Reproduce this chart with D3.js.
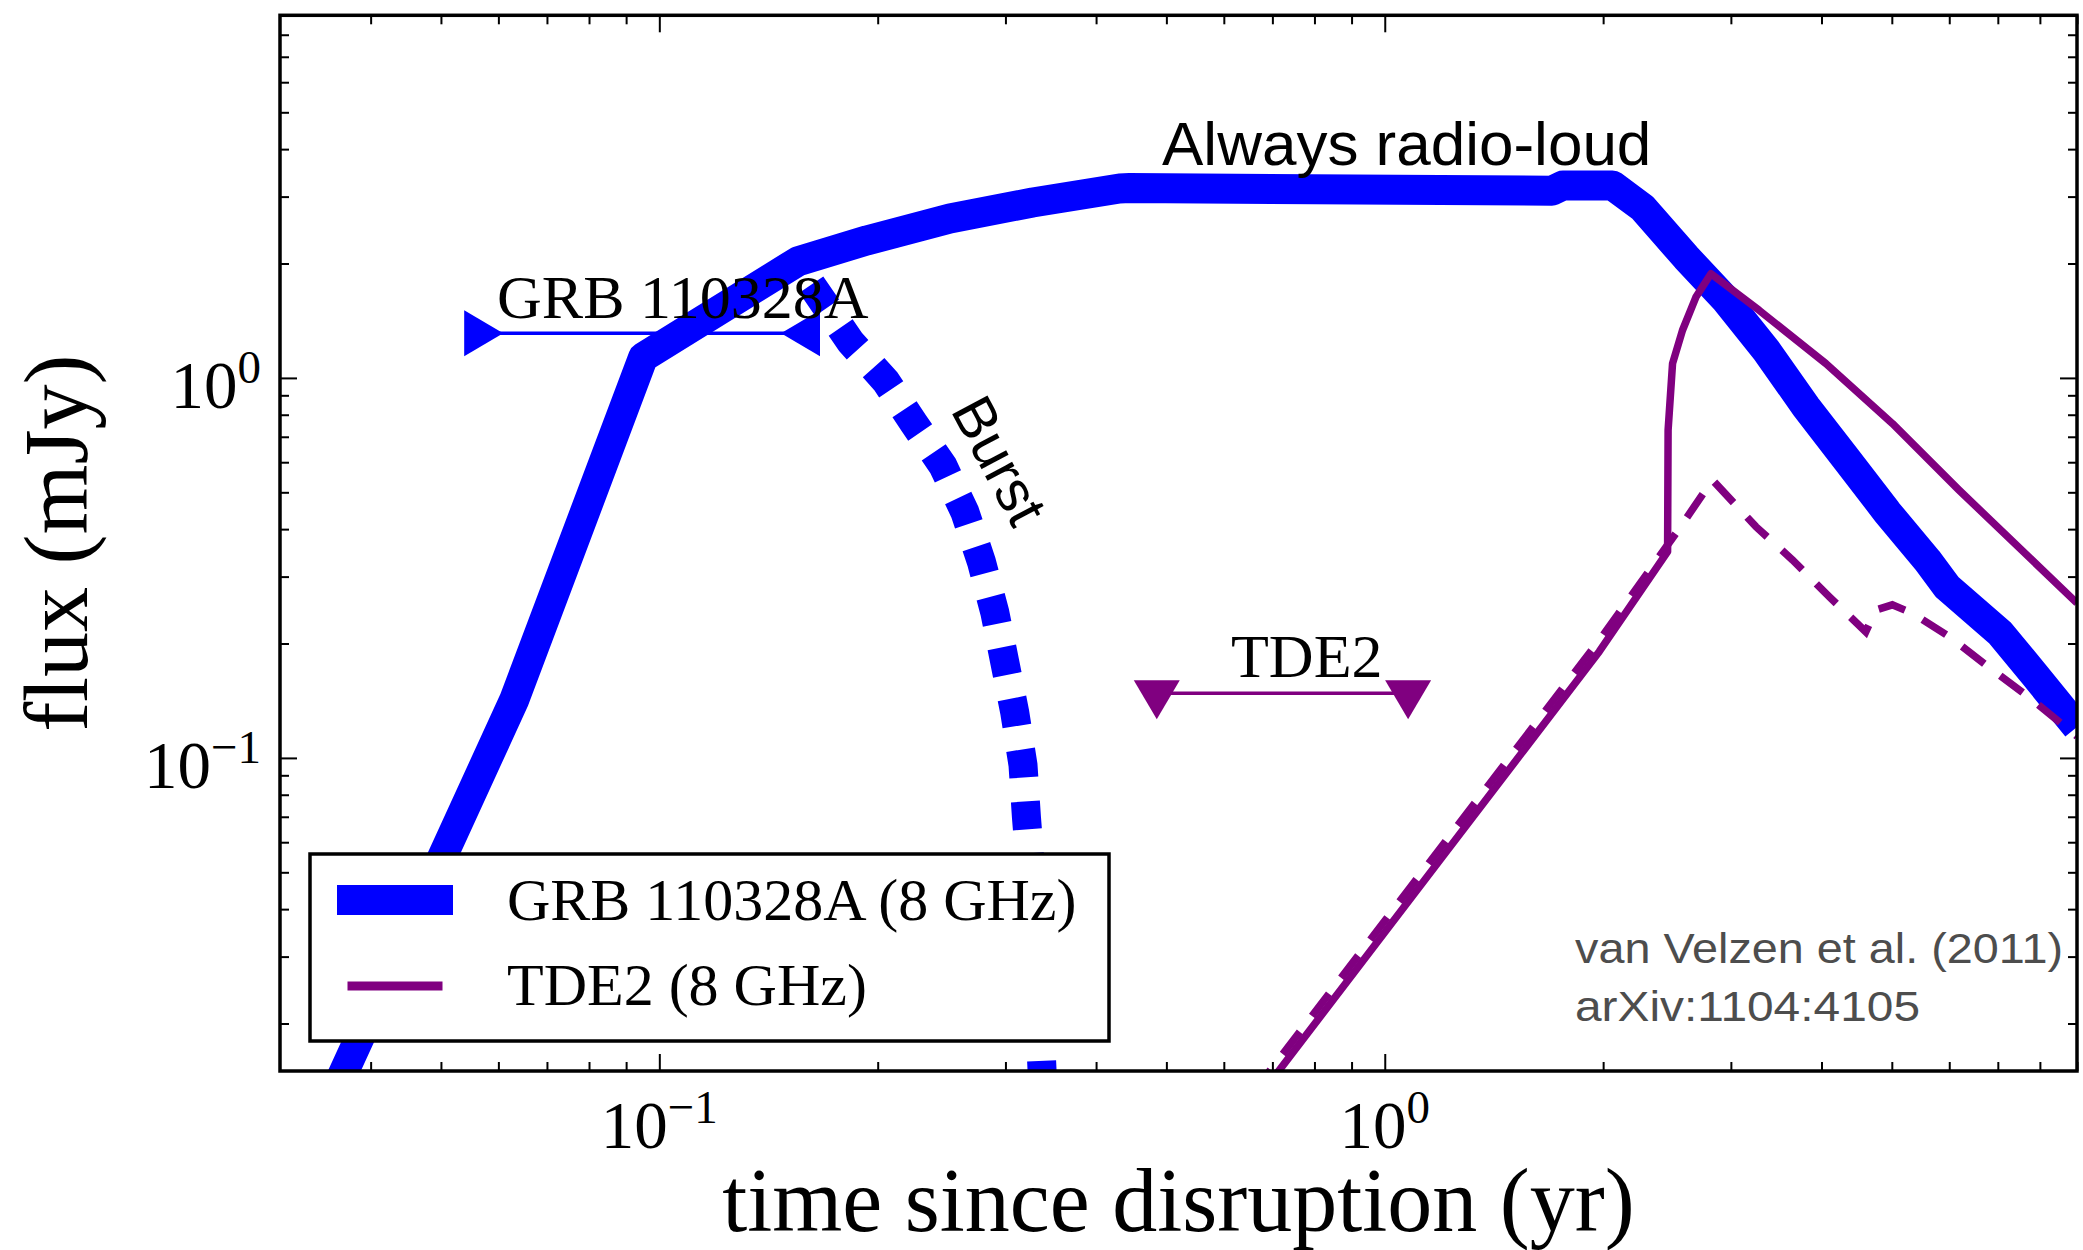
<!DOCTYPE html>
<html>
<head>
<meta charset="utf-8">
<script src="https://cdn.jsdelivr.net/npm/d3@7"></script>
<style>
  html, body { margin: 0; padding: 0; background: #ffffff; }
  svg { display: block; }
</style>
</head>
<body>
<script>
// ---------------- data ----------------
// GRB 110328A (8 GHz) light curve, thick blue solid
const grbT    = [0.03, 0.0631, 0.0950, 0.1552, 0.1932, 0.2515, 0.327, 0.431, 0.445, 1.70, 1.76, 2.06, 2.265, 2.603, 2.956, 3.356, 3.81, 4.338, 4.925, 5.593, 5.959, 7.05, 7.83, 9.0];
const grbFlux = [0.0064, 0.1422, 1.133, 2.026, 2.30, 2.628, 2.894, 3.15, 3.16, 3.11, 3.21, 3.21, 2.809, 2.075, 1.600, 1.182, 0.838, 0.608, 0.4437, 0.3317, 0.2817, 0.2132, 0.1673, 0.1206];

// "Burst" component, blue dotted
const burstT    = [0.162, 0.1835, 0.2052, 0.2243, 0.246, 0.2637, 0.278, 0.290, 0.2994, 0.309, 0.3172, 0.3207, 0.330, 0.337, 0.340];
const burstFlux = [1.76, 1.243, 0.980, 0.760, 0.587, 0.4438, 0.328, 0.2418, 0.1785, 0.1317, 0.0958, 0.0697, 0.035, 0.015, 0.012];

// TDE2 (8 GHz) model, purple solid
const tdeT    = [0.608, 0.718, 1.19, 1.976, 2.454, 2.458, 2.493, 2.573, 2.685, 2.816, 3.282, 4.055, 5.008, 6.187, 9.0];
const tdeFlux = [0.01, 0.0152, 0.0537, 0.1906, 0.349, 0.729, 1.091, 1.335, 1.632, 1.88, 1.506, 1.091, 0.759, 0.507, 0.2555];

// TDE2 second model, purple dashed
const tdeDashT    = [0.6, 0.718, 1.19, 1.976, 2.52, 2.83, 3.248, 3.648, 4.098, 4.603, 4.75, 5.008, 5.337, 5.996, 6.877, 7.81, 9.0];
const tdeDashFlux = [0.0105, 0.0163, 0.0575, 0.204, 0.39, 0.5384, 0.406, 0.332, 0.2658, 0.2147, 0.245, 0.2528, 0.2404, 0.2087, 0.1706, 0.1422, 0.114];

// Observation windows (limits)
const grbLimT = [0.0561, 0.1598];
const grbLimFlux = 1.31;
const tdeLimT = [0.485, 1.077];
const tdeLimFlux = 0.148;

// Axes
const xDomain = [0.03, 9];
const yDomain = [0.015, 9];
const xMajor = [0.1, 1];
const xMajorLabels = [["10", "\u22121"], ["10", "0"]];
const yMajor = [0.1, 1];
const yMajorLabels = [["10", "\u22121"], ["10", "0"]];
const xMinor = [0.04,0.05,0.06,0.07,0.08,0.09,0.2,0.3,0.4,0.5,0.6,0.7,0.8,0.9,2,3,4,5,6,7,8,9];
const yMinor = [0.02,0.03,0.04,0.05,0.06,0.07,0.08,0.09,0.2,0.3,0.4,0.5,0.6,0.7,0.8,0.9,2,3,4,5,6,7,8,9];

const legendLabels = ["GRB 110328A (8 GHz)", "TDE2 (8 GHz)"];
const creditLines = ["van Velzen et al. (2011)", "arXiv:1104:4105"];

// ---------------- drawing ----------------
const W = 2083, H = 1250;
const L = 280, R = 2077, T = 15.3, B = 1071;
const BLUE = "#0000ff", PURPLE = "#800080";
const SERIF = "'Liberation Serif', 'Times New Roman', Times, serif";
const SANS = "'Liberation Sans', Arial, Helvetica, sans-serif";

const svg = d3.select("body").append("svg").attr("width", W).attr("height", H);
svg.append("rect").attr("width", W).attr("height", H).attr("fill", "#fff");

const x = d3.scaleLog().domain(xDomain).range([L, R]);
const y = d3.scaleLog().domain(yDomain).range([B, T]);

svg.append("defs").append("clipPath").attr("id", "plotclip")
  .append("rect").attr("x", L).attr("y", T).attr("width", R - L).attr("height", B - T);

const zip = (a, b) => a.map((v, i) => [v, b[i]]);
const line = d3.line().x(d => x(d[0])).y(d => y(d[1]));

const plot = svg.append("g").attr("clip-path", "url(#plotclip)");

plot.append("path").attr("d", line(zip(grbT, grbFlux)))
  .attr("fill", "none").attr("stroke", BLUE).attr("stroke-width", 30)
  .attr("stroke-linejoin", "round");

plot.append("path").attr("d", line(zip(burstT, burstFlux)))
  .attr("fill", "none").attr("stroke", BLUE).attr("stroke-width", 29)
  .attr("stroke-dasharray", "28,24").attr("stroke-linecap", "butt");

plot.append("path").attr("d", line(zip(tdeT, tdeFlux)))
  .attr("fill", "none").attr("stroke", PURPLE).attr("stroke-width", 7.5)
  .attr("stroke-linejoin", "round");

plot.append("path").attr("d", line(zip(tdeDashT, tdeDashFlux)))
  .attr("fill", "none").attr("stroke", PURPLE).attr("stroke-width", 7.5)
  .attr("stroke-dasharray", "28,20").attr("stroke-linecap", "butt");

// limit bars with triangle markers
function tri(dir, cx, cy) {
  const b = 23, h = 39; // half base, height; reference point at centroid
  if (dir === ">") return `M${cx - h/3},${cy - b}L${cx + 2*h/3},${cy}L${cx - h/3},${cy + b}Z`;
  if (dir === "<") return `M${cx + h/3},${cy - b}L${cx - 2*h/3},${cy}L${cx + h/3},${cy + b}Z`;
  if (dir === "v") return `M${cx - b},${cy - h/3}L${cx},${cy + 2*h/3}L${cx + b},${cy - h/3}Z`;
}
const lim = svg.append("g");
lim.append("line").attr("x1", x(grbLimT[0])).attr("x2", x(grbLimT[1]))
  .attr("y1", y(grbLimFlux)).attr("y2", y(grbLimFlux))
  .attr("stroke", BLUE).attr("stroke-width", 3.5);
lim.append("path").attr("d", tri(">", x(grbLimT[0]), y(grbLimFlux))).attr("fill", BLUE);
lim.append("path").attr("d", tri("<", x(grbLimT[1]), y(grbLimFlux))).attr("fill", BLUE);

lim.append("line").attr("x1", x(tdeLimT[0])).attr("x2", x(tdeLimT[1]))
  .attr("y1", y(tdeLimFlux)).attr("y2", y(tdeLimFlux))
  .attr("stroke", PURPLE).attr("stroke-width", 3.5);
tdeLimT.forEach(t => lim.append("path").attr("d", tri("v", x(t), y(tdeLimFlux))).attr("fill", PURPLE));

// annotations
svg.append("text").attr("x", 497).attr("y", 318).attr("font-family", SERIF)
  .attr("font-size", 62).attr("fill", "#000").text("GRB 110328A");
svg.append("text").attr("x", 1231).attr("y", 677).attr("font-family", SERIF)
  .attr("font-size", 62).attr("fill", "#000").text("TDE2");
svg.append("text").attr("x", 1162).attr("y", 165).attr("font-family", SANS)
  .attr("font-size", 62).attr("fill", "#000").text("Always radio-loud");
svg.append("text").attr("transform", "translate(950,410) rotate(62)")
  .attr("font-family", SANS).attr("font-size", 58).attr("fill", "#000").text("Burst");

// credits
svg.append("text").attr("x", 1575).attr("y", 963).attr("font-family", SANS)
  .attr("font-size", 42).attr("fill", "#4d4d4d")
  .attr("textLength", 488).attr("lengthAdjust", "spacingAndGlyphs").text(creditLines[0]);
svg.append("text").attr("x", 1575).attr("y", 1021).attr("font-family", SANS)
  .attr("font-size", 42).attr("fill", "#4d4d4d")
  .attr("textLength", 345).attr("lengthAdjust", "spacingAndGlyphs").text(creditLines[1]);

// axes ticks (inward, all four sides)
function styleAxis(g) {
  g.select(".domain").remove();
  g.selectAll(".tick line").attr("stroke", "#000").attr("stroke-width", 2);
  g.selectAll(".tick text").remove();
}
const axes = svg.append("g");
[[d3.axisBottom, B], [d3.axisTop, T]].forEach(([ax, pos]) => {
  axes.append("g").attr("transform", `translate(0,${pos})`)
    .call(ax(x).tickValues(xMinor).tickSize(-9).tickFormat(() => "")).call(styleAxis);
  axes.append("g").attr("transform", `translate(0,${pos})`)
    .call(ax(x).tickValues(xMajor).tickSize(-17).tickFormat(() => "")).call(styleAxis);
});
[[d3.axisLeft, L], [d3.axisRight, R]].forEach(([ax, pos]) => {
  axes.append("g").attr("transform", `translate(${pos},0)`)
    .call(ax(y).tickValues(yMinor).tickSize(-9).tickFormat(() => "")).call(styleAxis);
  axes.append("g").attr("transform", `translate(${pos},0)`)
    .call(ax(y).tickValues(yMajor).tickSize(-17).tickFormat(() => "")).call(styleAxis);
});

// frame
svg.append("rect").attr("x", L).attr("y", T).attr("width", R - L).attr("height", B - T)
  .attr("fill", "none").attr("stroke", "#000").attr("stroke-width", 3.5);

// tick labels with superscripts
function powLabel(g, px, py, parts, anchor) {
  const t = g.append("text").attr("x", px).attr("y", py).attr("text-anchor", anchor)
    .attr("font-family", SERIF).attr("font-size", 67).attr("fill", "#000");
  t.append("tspan").text(parts[0]);
  t.append("tspan").attr("dy", -25).attr("font-size", 47).text(parts[1]);
}
xMajor.forEach((v, i) => powLabel(svg, x(v), 1148, xMajorLabels[i], "middle"));
yMajor.forEach((v, i) => powLabel(svg, 261, y(v) + 30, yMajorLabels[i], "end"));

// axis titles
svg.append("text").attr("x", (L + R) / 2).attr("y", 1231).attr("text-anchor", "middle")
  .attr("font-family", SERIF).attr("font-size", 90).attr("fill", "#000")
  .text("time since disruption (yr)");
svg.append("text").attr("transform", `translate(87,${(T + B) / 2}) rotate(-90)`)
  .attr("text-anchor", "middle").attr("font-family", SERIF).attr("font-size", 90)
  .attr("fill", "#000").text("flux (mJy)");

// legend
const lg = svg.append("g");
lg.append("rect").attr("x", 310).attr("y", 854).attr("width", 799).attr("height", 187)
  .attr("fill", "#fff").attr("stroke", "#000").attr("stroke-width", 3.5);
lg.append("line").attr("x1", 352).attr("x2", 438).attr("y1", 900).attr("y2", 900)
  .attr("stroke", BLUE).attr("stroke-width", 30).attr("stroke-linecap", "square");
lg.append("line").attr("x1", 352).attr("x2", 438).attr("y1", 986).attr("y2", 986)
  .attr("stroke", PURPLE).attr("stroke-width", 9).attr("stroke-linecap", "square");
lg.append("text").attr("x", 507).attr("y", 920).attr("font-family", SERIF)
  .attr("font-size", 60).attr("fill", "#000").text(legendLabels[0]);
lg.append("text").attr("x", 507).attr("y", 1005).attr("font-family", SERIF)
  .attr("font-size", 60).attr("fill", "#000").text(legendLabels[1]);
</script>
</body>
</html>
